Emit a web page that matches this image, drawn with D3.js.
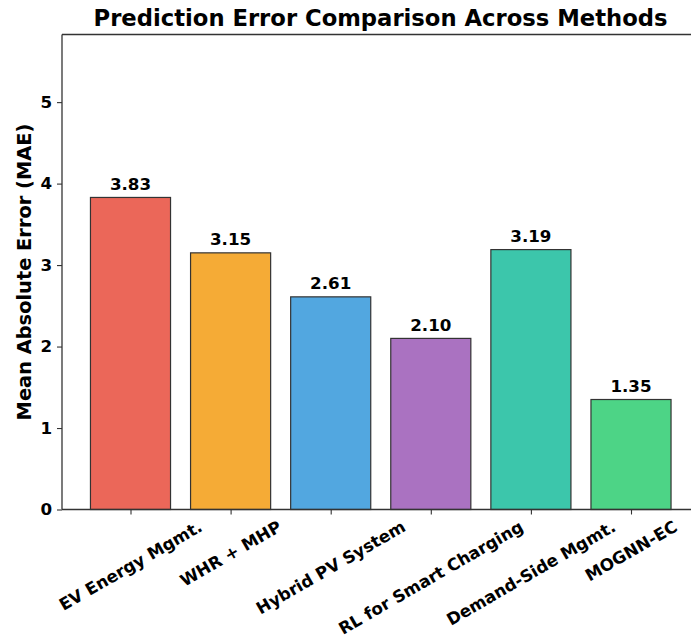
<!DOCTYPE html>
<html>
<head>
<meta charset="utf-8">
<script src="https://cdn.jsdelivr.net/npm/d3@7"></script>
<style>
  html, body { margin: 0; padding: 0; background: #fff; }
  svg { display: block; }
  text { font-family: "DejaVu Sans", sans-serif; font-weight: bold; fill: #000; }
</style>
</head>
<body>
<svg id="chart" width="691" height="638"></svg>
<script>
// Methods compared and their mean absolute error
const methods = ["EV Energy Mgmt.", "WHR + MHP", "Hybrid PV System",
                 "RL for Smart Charging", "Demand-Side Mgmt.", "MOGNN-EC"];
const maeValues = [3.83, 3.15, 2.61, 2.10, 3.19, 1.35];
const barColors = ["#eb6759", "#f5ab36", "#52a7e0", "#aa72c1", "#3cc6ab", "#4dd486"];
const yTicks = [0, 1, 2, 3, 4, 5];

const svg = d3.select("#chart");
const margin = { left: 62, top: 34.5, right: 699, bottom: 509.5 };

// Category centres, one step apart; bars take 0.8 of a step
const step = 100.1;
const x = d3.scalePoint()
  .domain(methods)
  .range([130.5, 130.5 + (methods.length - 1) * step]);
const barW = step * 0.8;

const y = d3.scaleLinear()
  .domain([0, d3.max(maeValues) + 2])
  .range([margin.bottom, margin.top]);

const tickFont = 16.7;

// Bars
svg.append("g").selectAll("rect")
  .data(maeValues)
  .join("rect")
  .attr("x", (d, i) => x(methods[i]) - barW / 2)
  .attr("y", d => y(d))
  .attr("width", barW)
  .attr("height", d => y(0) - y(d))
  .attr("fill", (d, i) => barColors[i])
  .attr("stroke", "#333")
  .attr("stroke-width", 1.2);

// Value labels above bars
svg.append("g").selectAll("text")
  .data(maeValues)
  .join("text")
  .attr("x", (d, i) => x(methods[i]))
  .attr("y", d => y(d) - 7.5)
  .attr("text-anchor", "middle")
  .attr("font-size", tickFont)
  .text(d => d.toFixed(2));

// Y axis
const yAxis = d3.axisLeft(y).tickValues(yTicks).tickSize(5).tickPadding(5)
  .tickFormat(d3.format("d"));
const gy = svg.append("g").attr("transform", `translate(${margin.left},0)`).call(yAxis);
gy.select(".domain").remove();
gy.selectAll(".tick line").attr("stroke", "#333").attr("stroke-width", 1.1);
gy.selectAll(".tick text").attr("font-size", tickFont).attr("fill", "#000")
  .style("font-family", "'DejaVu Sans', sans-serif").style("font-weight", "bold");

// X axis ticks
const xAxis = d3.axisBottom(x).tickSize(5).tickFormat("");
const gx = svg.append("g").attr("transform", `translate(0,${margin.bottom})`).call(xAxis);
gx.select(".domain").remove();
gx.selectAll(".tick line").attr("stroke", "#333").attr("stroke-width", 1.1);

// Rotated category labels, centred under each tick
const rot = 30 * Math.PI / 180;
const labels = svg.append("g").selectAll("text")
  .data(methods)
  .join("text")
  .attr("font-size", tickFont)
  .attr("text-anchor", "middle")
  .attr("dominant-baseline", "central")
  .text(d => d);
labels.each(function (d) {
  const w = this.getComputedTextLength();
  const h = tickFont * 1.17;
  const bh = w * Math.sin(rot) + h * Math.cos(rot);
  const cx = x(d);
  const cy = margin.bottom + 5 + 2 + bh / 2;
  d3.select(this).attr("transform", `translate(${cx},${cy}) rotate(-30)`);
});

// Frame
const frame = svg.append("g").attr("stroke", "#333").attr("stroke-width", 1.3).attr("fill", "none");
frame.append("line").attr("x1", margin.left).attr("x2", margin.left)
  .attr("y1", margin.top).attr("y2", margin.bottom);
frame.append("line").attr("x1", margin.left).attr("x2", margin.right)
  .attr("y1", margin.top).attr("y2", margin.top);
frame.append("line").attr("x1", margin.left).attr("x2", margin.right)
  .attr("y1", margin.bottom).attr("y2", margin.bottom);
frame.append("line").attr("x1", margin.right).attr("x2", margin.right)
  .attr("y1", margin.top).attr("y2", margin.bottom);

// Title
svg.append("text")
  .attr("x", (margin.left + margin.right) / 2)
  .attr("y", 26)
  .attr("text-anchor", "middle")
  .attr("font-size", 22.7)
  .text("Prediction Error Comparison Across Methods");

// Y axis label
svg.append("text")
  .attr("transform", `translate(31,${(margin.top + margin.bottom) / 2}) rotate(-90)`)
  .attr("text-anchor", "middle")
  .attr("font-size", 19.4)
  .text("Mean Absolute Error (MAE)");
</script>
</body>
</html>
